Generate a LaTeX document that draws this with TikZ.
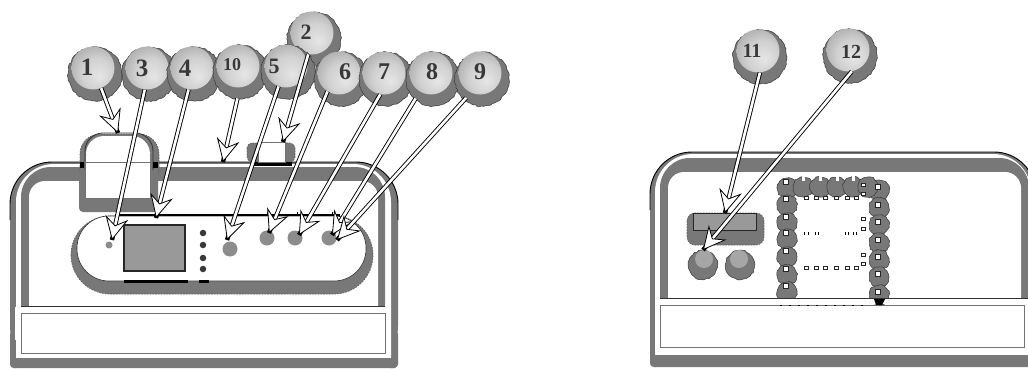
\documentclass[tikz,border=0pt]{standalone}
\usepackage{fontspec}
\setmainfont{Liberation Serif}
\usetikzlibrary{arrows.meta,decorations.pathmorphing}
\definecolor{bandgray}{gray}{0.47}
\definecolor{scrgray}{gray}{0.6}
\definecolor{knobgray}{gray}{0.55}
\definecolor{inkdark}{gray}{0.22}
\pgfdeclareradialshading{ballsh}{\pgfpoint{8bp}{-10bp}}{color(0bp)=(white!90!black); color(18bp)=(white!82!black); color(38bp)=(white!62!black); color(50bp)=(white!50!black)}
\tikzset{
  x=1pt,y=-1pt,
  rough/.style={decorate,decoration={random steps,segment length=2.4pt,amplitude=.7pt}},
  shadowdisc/.style={rough,fill=bandgray,draw=inkdark,line width=.5pt},
  dashedge/.style={fill=bandgray,draw=inkdark!80!white,line width=.7pt,dash pattern=on 1.6pt off 1.2pt},
  ballnode/.style={circle,minimum size=43pt,inner sep=0pt,shading=ballsh},
  band/.style={fill=bandgray,draw=none},
  hole/.style={fill=white,draw=none},
  thinline/.style={draw=black!80,line width=.8pt},
  framebox/.style={fill=white,draw=gray!90!black,line width=.9pt},
  screenbox/.style={fill=scrgray,draw=black!85,line width=1.1pt},
  lamp/.style={circle,fill=knobgray,inner sep=0pt},
  dotlamp/.style={circle,fill=inkdark,inner sep=0pt,minimum size=6.5pt},
  callout/.style={
    preaction={draw=black,line width=4.4pt,-},
    draw=white,line width=2.6pt,
    -{Stealth[length=23pt,width=23pt,inset=8pt,fill=white,color=black,line width=.8pt]}},
  padsq/.style={draw=black!85,fill=white,line width=.7pt,minimum width=4pt,minimum height=3.4pt,inner sep=0pt},
  ringsq/.style={draw=black!85,fill=white,line width=.7pt,minimum size=5pt,inner sep=0pt},
}
\newcommand{\balloon}[7]{% name, ball x, ball y, label, label x, label y, size
  \draw[shadowdisc] (#2+2,#3+6) circle[radius=27];
  \node[ballnode] (#1) at (#2,#3) {};
  \node[inner sep=0pt,text=inkdark,font=\bfseries\fontsize{#7}{#7}\selectfont] (#1t) at (#5,#6) {#4};
}
\begin{document}
\begin{tikzpicture}
\useasboundingbox (0,0) rectangle (1028,369);
\fill[white] (0,0) rectangle (1028,369);

%% LEFT DEVICE
\fill[band,rounded corners=42] (10,162) -- (398,162) -- (398,368) -- (10,368) -- cycle;
\fill[band,rounded corners=4] (10,330) rectangle (398,368);
\fill[hole,rounded corners=38] (16,164) rectangle (391,400);
\fill[band,rounded corners=4] (10,358) rectangle (398,368);
\fill[white] (0,368.5) rectangle (420,369);
\draw[black,line width=.9pt,rounded corners=42] (10,220) -- (10,162) -- (398,162) -- (398,220);
\fill[band,rounded corners=30] (21,167) rectangle (385,340);
\fill[hole] (15,307) rectangle (391,340);
\fill[hole,rounded corners=16] (29,181) rectangle (378,330);
\fill[hole] (21,307) rectangle (385,340);
\draw[thinline] (21,306) -- (385,306);
\draw[framebox] (21,313) rectangle (385,353);

% handle on top of the body
\path[dashedge,rounded corners=20] (80,134) rectangle (159,190);
\fill[band,rounded corners=4] (79,170) rectangle (158,212);
\fill[hole,rounded corners=18] (86,136) rectangle (150,170);
\fill[hole] (86,155) rectangle (150,198);
\draw[thinline,rounded corners=18] (85,170) -- (85,133) -- (153,133) -- (153,170);
\draw[draw=gray!90!black,line width=.9pt] (85,162) -- (150,162);
\draw[draw=gray!90!black,line width=.9pt] (85,162) -- (85,198) -- (150,198) -- (150,162);
\fill[black] (80,162) rectangle (84,168);
\fill[black] (153,162) rectangle (158,168);

% small hatch on top
\path[dashedge,rounded corners=5] (247,143) rectangle (295,162);
\fill[black] (253,162) rectangle (292,166);
\draw[framebox] (258,142) rectangle (285,162);

% pill panel
\path[dashedge,rounded corners=39] (71,216) rectangle (373,294);
\fill[hole,rounded corners=32] (77,216) rectangle (366,281);
\draw[thinline,line width=.6pt,rounded corners=32] (77,216) rectangle (366,281);
\draw[black,line width=1.1pt] (115,215) -- (340,215);
\fill[black] (124,280) rectangle (188,282.5);
\fill[black] (199,280) rectangle (209,282.5);
\draw[black,line width=.9pt] (267,212) -- (267,216) (297,212) -- (297,216) (332,212) -- (332,216);

\node[screenbox,minimum width=61pt,minimum height=46pt,inner sep=0pt] (screen) at (154.5,248) {};
\node[dotlamp] (d1) at (203,233) {};
\node[dotlamp] (d2) at (203,245) {};
\node[dotlamp] (d3) at (203,258) {};
\node[dotlamp] (d4) at (203,269) {};
\node[lamp,minimum size=7pt] (k0) at (109,245) {};
\node[lamp,minimum size=15pt] (k1) at (230,249) {};
\node[lamp,minimum size=15pt] (k2) at (267,238) {};
\node[lamp,minimum size=15pt] (k3) at (295,238) {};
\node[lamp,minimum size=15pt] (k4) at (329,238) {};

%% RIGHT DEVICE
\fill[band,rounded corners=42] (650,152) rectangle (1036,367);
\fill[band,rounded corners=4] (650,320) rectangle (1036,367);
\fill[hole,rounded corners=38] (655,154) rectangle (1031,400);
\fill[band,rounded corners=4] (650,355) rectangle (1036,367);
\fill[white] (640,367.5) rectangle (1028,369);
\draw[black,line width=.9pt,rounded corners=42] (650,210) -- (650,152) -- (1036,152) -- (1036,210);
\fill[band,rounded corners=30] (660,158) rectangle (1029,340);
\fill[hole,rounded corners=16] (668,172) rectangle (1021,330);
\fill[hole] (655,299) rectangle (1031,340);
\draw[thinline] (660,298) -- (1028,298);
\draw[framebox] (660,305) rectangle (1024,347);

% display and knobs
\path[dashedge,rounded corners=8] (687,213) rectangle (764,245);
\node[draw=black!85,fill=scrgray,line width=1pt,minimum width=63pt,minimum height=17pt,inner sep=0pt] (disp) at (725,222) {};
\draw[shadowdisc] (703,265) circle[radius=14.5];
\draw[shadowdisc] (740,265) circle[radius=14.5];
\node[circle,fill=gray!70,minimum size=18pt,inner sep=0pt] (kn1) at (704,259) {};
\node[circle,fill=gray!70,minimum size=18pt,inner sep=0pt] (kn2) at (739,259) {};

% ring of contacts
\foreach \y in {182,199,217,233,251,269,286} \draw[shadowdisc] (787,\y+6) circle[radius=10];
\foreach \y in {187,205,222,240,257,274,292} \draw[shadowdisc] (879,\y+3) circle[radius=10];
\foreach \x in {803,820,837,853,868} \draw[shadowdisc] (\x,187) circle[radius=10];
\foreach \x in {803,820,837,853} \fill[white] (\x-1.5,175) rectangle (\x+1.5,181);
\fill[white] (797.5,197.5) rectangle (868.5,298);
\fill[white] (770,298.5) rectangle (895,304);
\draw[thinline] (770,298) -- (895,298);
\foreach \y in {182,199,217,233,251,269,286} \node[ringsq] at (786,\y) {};
\foreach \y in {187,205,222,240,257,274,292} \node[ringsq] at (878,\y) {};
\foreach \y in {185,194,219,229,255,264} \node[padsq] at (863,\y) {};
\foreach \x in {806,816,825,836,847,856} {\node[padsq] at (\x,198) {}; \node[padsq] at (\x,268) {};}
\foreach \x in {804,808,815,818,845,848,853,856} \draw[black,line width=.7pt] (\x,232) -- (\x,235);
\draw[black,line width=1pt,dash pattern=on 2pt off 7pt] (780,305) -- (870,305);
\fill[black] (874,299) -- (885,299) -- (882,305) -- (876,305) -- cycle;

%% BALLOONS
\balloon{b2}{312}{33}{2}{306}{32}{22}
\balloon{b1}{93}{68}{1}{87}{67}{25}
\balloon{b3}{147}{68}{3}{142}{68}{25}
\balloon{b4}{192}{68}{4}{185}{68}{25}
\balloon{b10}{238}{66}{10}{232}{65}{18}
\balloon{b5}{286}{66}{5}{274}{66}{22}
\balloon{b6}{339}{73}{6}{345}{72}{24}
\balloon{b7}{384}{73}{7}{384}{72}{24}
\balloon{b8}{431}{73}{8}{432}{72}{24}
\balloon{b9}{480}{73}{9}{480}{72}{24}
\balloon{b11}{758}{51}{11}{752}{51}{20}
\balloon{b12}{848}{50}{12}{851}{52}{20}

%% TARGETS
\coordinate (t1) at (118,133);
\coordinate (t2) at (283,142);
\coordinate (t3) at (112,240);
\coordinate (t4) at (156,218);
\coordinate (t5) at (227,240);
\coordinate (t6) at (269,233);
\coordinate (t7) at (299,235);
\coordinate (t8) at (332,235);
\coordinate (t9) at (337,240);
\coordinate (t10) at (223,162);
\coordinate (t11) at (725,213);
\coordinate (t12) at (703,250);

%% CONNECTORS
\draw[callout] (b1.-68) -- (t1);
\draw[callout] (b3.-96) -- (t3);
\draw[callout] (b4.-99) -- (t4);
\draw[callout,shorten <=11pt] (b10.-85) -- (t10);
\draw[callout] (b5.-110) -- (t5);
\draw[callout] (b2.-100) -- (t2);
\draw[callout] (b6.-122) -- (t6);
\draw[callout] (b7.-100) -- (t7);
\draw[callout,shorten <=8pt] (b8.-121) -- (t8);
\draw[callout,shorten <=7pt] (b9.-115) -- (t9);
\draw[callout] (b11.-85) -- (t11);
\draw[callout] (b12.-80) -- (t12);
\end{tikzpicture}
\end{document}
